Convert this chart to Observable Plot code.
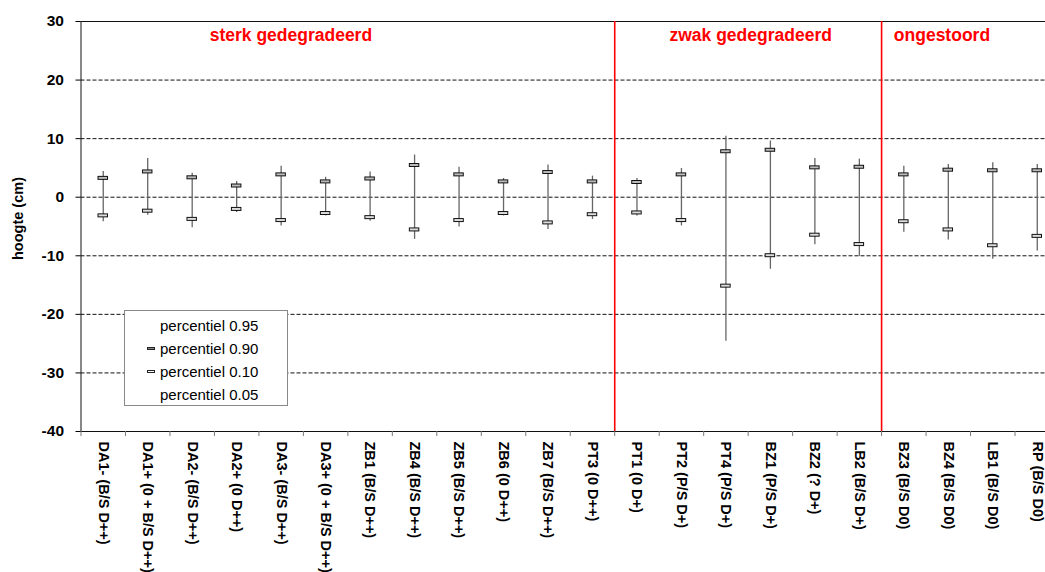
<!DOCTYPE html>
<html>
<head>
<meta charset="utf-8">
<script src="https://cdn.jsdelivr.net/npm/d3@7"></script>
<script src="https://cdn.jsdelivr.net/npm/@observablehq/plot@0.6"></script>
<style>
  html, body { margin: 0; padding: 0; background: white; overflow: hidden; }
  #wrap { position: relative; width: 1045px; height: 572px; overflow: hidden; }
  #legend {
    position: absolute; left: 124px; top: 310px; width: 164px; height: 96px;
    box-sizing: border-box; border: 1px solid #888; background: white;
    font-family: "Liberation Sans", Arial, sans-serif; font-size: 15px; color: #000;
  }
  #legend .row { position: absolute; left: 0; width: 100%; height: 20px; line-height: 20px; }
  #legend .lbl { position: absolute; left: 35px; }
  #legend .mk { position: absolute; left: 22px; top: 8px; width: 8px; height: 3px; box-sizing: border-box; border: 1px solid #222; }
</style>
</head>
<body>
<div id="wrap">
  <div id="chart"></div>
  <div id="legend"></div>
</div>
<script>
const categories = [
  "DA1- (B/S D++)", "DA1+ (0 + B/S D++)", "DA2- (B/S D++)", "DA2+ (0 D++)",
  "DA3- (B/S D++)", "DA3+ (0 + B/S D++)", "ZB1 (B/S D++)", "ZB4 (B/S D++)",
  "ZB5 (B/S D++)", "ZB6 (0 D++)", "ZB7 (B/S D++)", "PT3 (0 D++)",
  "PT1 (0 D+)", "PT2 (P/S D+)", "PT4 (P/S D+)", "BZ1 (P/S D+)",
  "BZ2 (? D+)", "LB2 (B/S D+)", "BZ3 (B/S D0)", "BZ4 (B/S D0)",
  "LB1 (B/S D0)", "RP (B/S D0)"
];
const p95 = [4.4, 6.6, 4.1, 2.7, 5.3, 3.4, 4.3, 7.2, 5.1, 3.2, 5.5, 3.6, 3.2, 4.9, 10.4, 9.6, 6.6, 6.5, 5.3, 5.6, 5.9, 5.6];
const p90 = [3.3, 4.4, 3.4, 2.0, 3.9, 2.7, 3.2, 5.5, 3.9, 2.7, 4.3, 2.7, 2.6, 3.9, 7.85, 8.1, 5.1, 5.2, 3.9, 4.7, 4.6, 4.6];
const p10 = [-3.1, -2.3, -3.7, -2.0, -3.9, -2.7, -3.4, -5.5, -3.9, -2.7, -4.3, -2.9, -2.6, -3.9, -15.1, -9.9, -6.4, -8.0, -4.1, -5.5, -8.2, -6.6];
const p05 = [-4.2, -3.1, -5.2, -2.6, -4.9, -3.2, -4.1, -7.2, -5.1, -3.2, -5.5, -3.8, -3.2, -4.9, -24.6, -12.3, -8.1, -10.1, -6.0, -7.3, -10.6, -9.2];
const yTicks = [30, 20, 10, 0, -10, -20, -30, -40];
const gridValues = [20, 10, 0, -10, -20, -30];
const sectionStarts = ["PT1 (0 D+)", "BZ3 (B/S D0)"];
const groupLabels = ["sterk gedegradeerd", "zwak gedegradeerd", "ongestoord"];
const groupAnchors = ["DA2- (B/S D++)", "PT1 (0 D+)", "BZ3 (B/S D0)"];
const groupOffsets = [17.5, 32.5, -10];
const legendLabels = ["percentiel 0.95", "percentiel 0.90", "percentiel 0.10", "percentiel 0.05"];
const yLabel = "hoogte (cm)";

const rows = categories.map((c, i) => ({cat: c, p95: p95[i], p90: p90[i], p10: p10[i], p05: p05[i]}));
const groups = groupLabels.map((l, i) => ({label: l, cat: groupAnchors[i], dx: groupOffsets[i]}));

const W = 1045, H = 572;
const x0 = 80.5, x1 = 1059;
const bw = (x1 - x0) / categories.length;
const font = "Liberation Sans, Arial, sans-serif";

const groupMarks = groups.map(g => Plot.text([g], {
  x: "cat", y: () => 26.6, text: "label", textAnchor: "start", dx: g.dx,
  fill: "#ff0000", fontSize: 17.5, fontWeight: "bold", lineAnchor: "bottom"
}));

const chart = Plot.plot({
  width: W, height: H,
  marginTop: 21, marginBottom: H - 431, marginLeft: x0, marginRight: 0,
  style: {fontFamily: font, background: "white", color: "black"},
  x: {type: "band", domain: categories, range: [x0, x1], paddingInner: 0, paddingOuter: 0, round: false, label: null},
  y: {domain: [-40, 30], label: null},
  marks: [
    Plot.ruleY(gridValues, {stroke: "#111", strokeWidth: 1, strokeDasharray: "4,2"}),
    Plot.ruleY([30, -40], {stroke: "#111", strokeWidth: 1}),
    Plot.ruleX([categories[0]], {x: d => d, dx: -bw / 2, y1: -40, y2: 30, stroke: "#111", strokeWidth: 1}),
    Plot.ruleX(categories, {x: d => d, dx: -bw / 2, y1: -40, y2: -40.85, stroke: "#777", strokeWidth: 1}),
    Plot.ruleX(sectionStarts, {x: d => d, dx: -bw / 2, y1: -40, y2: 30, stroke: "#ff0000", strokeWidth: 1.6}),
    Plot.ruleX(rows, {x: "cat", y1: "p05", y2: "p95", stroke: "#666", strokeWidth: 1.3}),
    Plot.tickY(rows, {x: "cat", y: "p90", insetLeft: 17, insetRight: 17, stroke: "#111", strokeWidth: 4}),
    Plot.tickY(rows, {x: "cat", y: "p90", insetLeft: 18, insetRight: 18, stroke: "#bbb", strokeWidth: 2}),
    Plot.tickY(rows, {x: "cat", y: "p10", insetLeft: 17, insetRight: 17, stroke: "#111", strokeWidth: 4}),
    Plot.tickY(rows, {x: "cat", y: "p10", insetLeft: 18, insetRight: 18, stroke: "#ddd", strokeWidth: 2}),
    ...groupMarks,
    Plot.axisY({ticks: yTicks, tickFormat: d => String(d), tickSize: 5, tickPadding: 12, fontSize: 15.5, fontWeight: "bold", label: null}),
    Plot.axisX({tickRotate: 90, tickSize: 0, tickPadding: 10, fontSize: 14.5, fontWeight: "bold", label: null}),
    Plot.text([yLabel], {text: d => d, frameAnchor: "left", rotate: -90, dx: -63, dy: -8,
      fontSize: 14.5, fontWeight: "bold", textAnchor: "middle"})
  ]
});
document.getElementById("chart").appendChild(chart);

// Legend (overlaid inside the plot area as in the reference)
const legend = document.getElementById("legend");
const rowTops = [5, 28, 51, 74];
legendLabels.forEach((l, i) => {
  const r = document.createElement("div");
  r.className = "row";
  r.style.top = rowTops[i] + "px";
  if (i === 1 || i === 2) {
    const m = document.createElement("div");
    m.className = "mk";
    m.style.background = i === 1 ? "#888" : "#fff";
    r.appendChild(m);
  }
  const t = document.createElement("span");
  t.className = "lbl";
  t.textContent = l;
  r.appendChild(t);
  legend.appendChild(r);
});
</script>
</body>
</html>
